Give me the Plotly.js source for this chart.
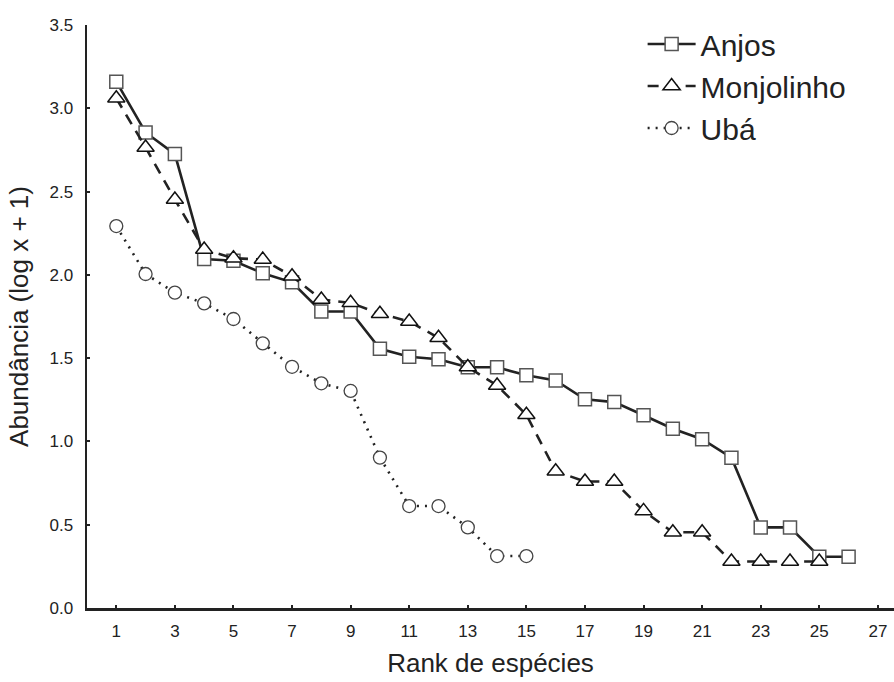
<!DOCTYPE html>
<html>
<head>
<meta charset="utf-8">
<script src="https://cdn.plot.ly/plotly-3.0.1.min.js"></script>
<style>html,body{margin:0;padding:0;background:#fff;}#chart{width:894px;height:682px;}</style>
</head>
<body>
<div id="chart"></div>
<script>
// Data
const seriesNames = ["Anjos", "Monjolinho", "Ubá"];
const anjosRank = [1,2,3,4,5,6,7,8,9,10,11,12,13,14,15,16,17,18,19,20,21,22,23,24,25,26];
const anjosAbund = [3.16,2.855,2.725,2.095,2.085,2.01,1.955,1.78,1.78,1.556,1.508,1.493,1.445,1.445,1.397,1.366,1.253,1.236,1.157,1.076,1.013,0.902,0.484,0.484,0.308,0.308];
const monjRank = [1,2,3,4,5,6,7,8,9,10,11,12,13,14,15,16,17,18,19,20,21,22,23,24,25];
const monjAbund = [3.06,2.765,2.452,2.152,2.10,2.092,1.992,1.852,1.832,1.767,1.72,1.622,1.447,1.336,1.16,0.821,0.759,0.759,0.583,0.455,0.455,0.279,0.279,0.279,0.279];
const ubaRank = [1,2,3,4,5,6,7,8,9,10,11,12,13,14,15];
const ubaAbund = [2.293,2.005,1.893,1.829,1.735,1.589,1.448,1.349,1.303,0.903,0.612,0.612,0.484,0.312,0.312];
const xTickVals = [1,3,5,7,9,11,13,15,17,19,21,23,25,27];
const yTickVals = [0,0.5,1.0,1.5,2.0,2.5,3.0,3.5];

const FONT = "Liberation Sans, Arial, sans-serif";
const INK = "#222222";

const traces = [
  {
    x: anjosRank, y: anjosAbund, name: seriesNames[0], type: "scatter", mode: "lines+markers",
    line: {color: INK, width: 2.6, dash: "solid"},
    marker: {symbol: "square", size: 13, color: "#ffffff", line: {color: "#555555", width: 1.5}}
  },
  {
    x: monjRank, y: monjAbund, name: seriesNames[1], type: "scatter", mode: "lines+markers",
    line: {color: INK, width: 2.6, dash: "11px,8px"},
    marker: {symbol: "triangle-up", size: 15, color: "#ffffff", line: {color: "#111111", width: 1.5}}
  },
  {
    x: ubaRank, y: ubaAbund, name: seriesNames[2], type: "scatter", mode: "lines+markers",
    line: {color: INK, width: 2.6, dash: "2px,6px"},
    marker: {symbol: "circle", size: 13, color: "#ffffff", line: {color: "#444444", width: 1.3}}
  }
];

const layout = {
  width: 894, height: 682,
  paper_bgcolor: "#ffffff", plot_bgcolor: "#ffffff",
  margin: {l: 87, r: 0, t: 25, b: 74, pad: 0},
  font: {family: FONT, color: INK},
  showlegend: true,
  legend: {
    x: 0.6885, y: 1.012, xanchor: "left", yanchor: "top",
    font: {family: FONT, size: 30, color: INK},
    bgcolor: "rgba(0,0,0,0)", borderwidth: 0,
    itemwidth: 48,
    tracegroupgap: 0
  },
  xaxis: {
    range: [0, 27.55], tickmode: "array", tickvals: xTickVals,
    ticks: "inside", ticklen: 3, tickwidth: 2, tickcolor: INK,
    showline: true, linecolor: INK, linewidth: 2.5, mirror: false,
    showgrid: false, zeroline: false,
    tickfont: {family: FONT, size: 17, color: INK},
    ticklabelstandoff: 6,
    title: {text: "Rank de espécies", font: {family: FONT, size: 26, color: INK}, standoff: 14}
  },
  yaxis: {
    range: [0, 3.5], tickmode: "array", tickvals: yTickVals,
    tickformat: ".1f",
    ticks: "inside", ticklen: 3, tickwidth: 2, tickcolor: INK,
    showline: true, linecolor: INK, linewidth: 2.5, mirror: false,
    showgrid: false, zeroline: false,
    tickfont: {family: FONT, size: 17, color: INK},
    ticklabelstandoff: 8,
    title: {text: "Abundância (log x + 1)", font: {family: FONT, size: 26, color: INK}, standoff: 14}
  }
};

Plotly.newPlot("chart", traces, layout, {displayModeBar: false, staticPlot: true});
</script>
</body>
</html>
